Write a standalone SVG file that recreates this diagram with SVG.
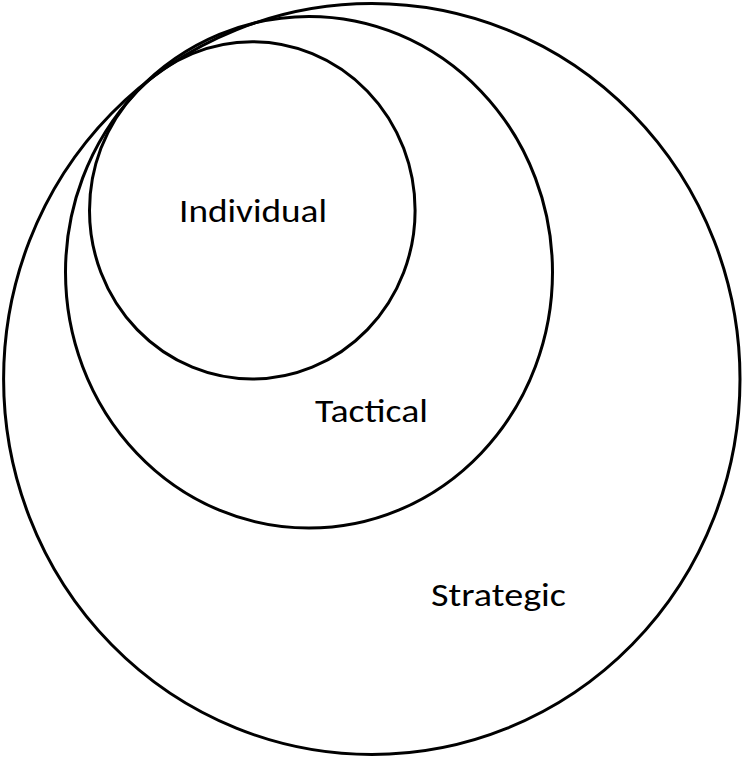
<svg xmlns="http://www.w3.org/2000/svg" width="742" height="758" viewBox="0 0 742 758">
<style>
.ring{fill:none;stroke:#000;stroke-width:3}
.lbl{font-family:Carlito,"Open Sans","Liberation Sans",sans-serif;font-size:32px;fill:#000}
</style>
<rect width="742" height="758" fill="#fff"/>
<g id="strategic">
<ellipse class="ring" cx="371.8" cy="379" rx="368.2" ry="375.5"/>
<text class="lbl" x="431" y="605.5" textLength="135" lengthAdjust="spacingAndGlyphs">Strategic</text>
</g>
<g id="tactical">
<ellipse class="ring" cx="309" cy="272.3" rx="243.5" ry="255.8"/>
<text class="lbl" x="315" y="421.5" textLength="113" lengthAdjust="spacingAndGlyphs">Tactical</text>
</g>
<g id="individual">
<ellipse class="ring" cx="252.3" cy="210.4" rx="162.8" ry="168.6"/>
<text class="lbl" x="179" y="222" textLength="148" lengthAdjust="spacingAndGlyphs">Individual</text>
</g>
<g id="connectors"/>
</svg>
